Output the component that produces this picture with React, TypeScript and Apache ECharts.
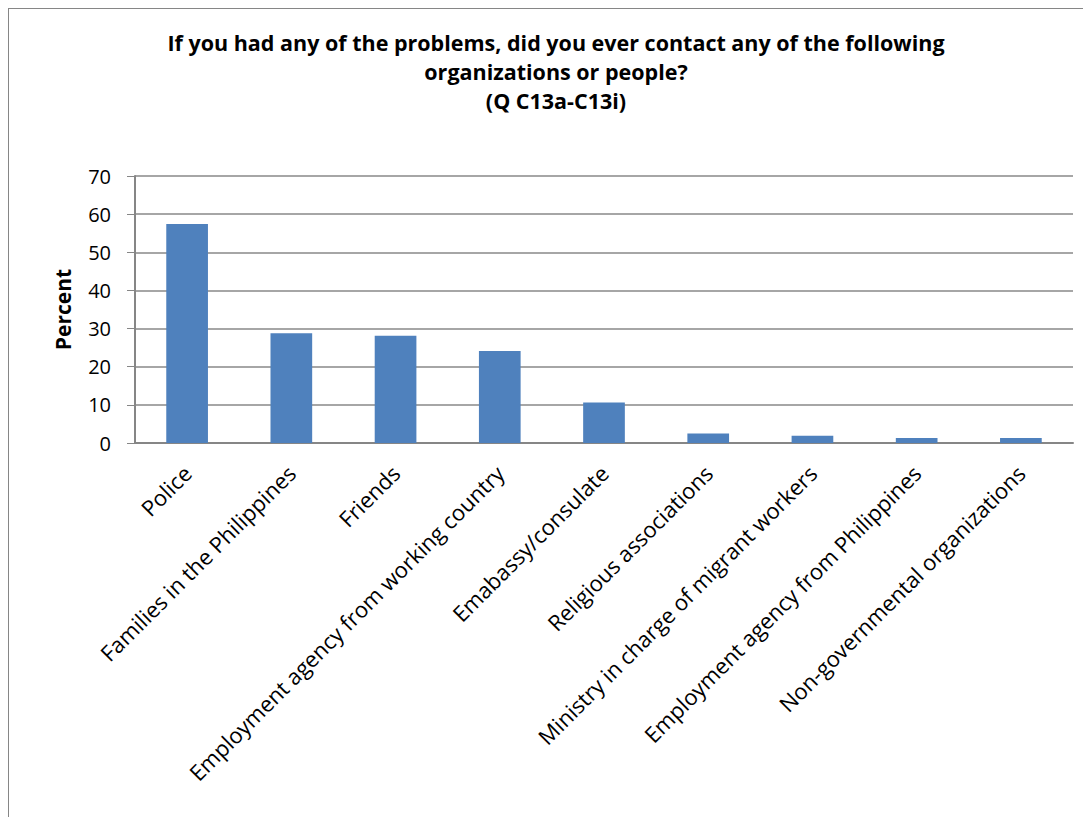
import React, { useEffect, useRef } from "react";
import * as echarts from "echarts";

const titleLines = [
  "If you had any of the problems, did you ever contact any of the following",
  "organizations or people?",
  "(Q C13a-C13i)",
];
const categories = [
  "Police",
  "Families in the Philippines",
  "Friends",
  "Employment agency from working country",
  "Emabassy/consulate",
  "Religious associations",
  "Ministry in charge of migrant workers",
  "Employment agency from Philippines",
  "Non-governmental organizations",
];
const values = [57.4, 28.8, 28.1, 24.1, 10.6, 2.5, 1.9, 1.3, 1.3];
const yTicks = { min: 0, max: 70, interval: 10 };
const yName = "Percent";

const FONT = "'Open Sans', 'Noto Sans', sans-serif";

export default function App() {
  const ref = useRef<HTMLDivElement>(null);
  useEffect(() => {
    if (!ref.current) return;
    const chart = echarts.init(ref.current, null, { renderer: "svg" });
    chart.setOption({
      animation: false,
      backgroundColor: "#ffffff",
      title: {
        text: titleLines.join("\n"),
        left: 543,
        textAlign: "center",
        top: 15,
        textStyle: {
          fontFamily: FONT,
          fontSize: 21.5,
          fontWeight: "bold",
          color: "#000",
          lineHeight: 29,
        },
      },
      graphic: [
        {
          type: "rect",
          shape: { x: 0, y: 0, width: 1200, height: 900 },
          style: { fill: "none", stroke: "#868686", lineWidth: 2 },
          silent: true,
        },
      ],
      grid: { left: 127, right: 18, top: 168, bottom: 374, containLabel: false },
      xAxis: {
        type: "category",
        data: categories,
        axisLine: { lineStyle: { color: "#868686", width: 2 } },
        axisTick: { show: false },
        axisLabel: {
          rotate: 45,
          interval: 0,
          margin: 26,
          fontFamily: FONT,
          fontSize: 22,
          color: "#000",
        },
      },
      yAxis: {
        type: "value",
        min: yTicks.min,
        max: yTicks.max,
        interval: yTicks.interval,
        name: yName,
        nameLocation: "middle",
        nameGap: 62,
        nameRotate: 90,
        nameTextStyle: {
          fontFamily: FONT,
          fontSize: 21,
          fontWeight: "bold",
          color: "#000",
        },
        axisLine: { show: true, lineStyle: { color: "#868686", width: 2 } },
        axisTick: { show: true, inside: false, length: 8, lineStyle: { color: "#868686" } },
        axisLabel: {
          margin: 24,
          fontFamily: FONT,
          fontSize: 20,
          color: "#000",
        },
        splitLine: { show: true, lineStyle: { color: "#898989", width: 1.5 } },
      },
      series: [
        {
          type: "bar",
          data: values,
          barWidth: "40%",
          itemStyle: { color: "#4F81BD" },
        },
      ],
    });
    return () => chart.dispose();
  }, []);
  return <div ref={ref} style={{ width: 1083, height: 809 }} />;
}
